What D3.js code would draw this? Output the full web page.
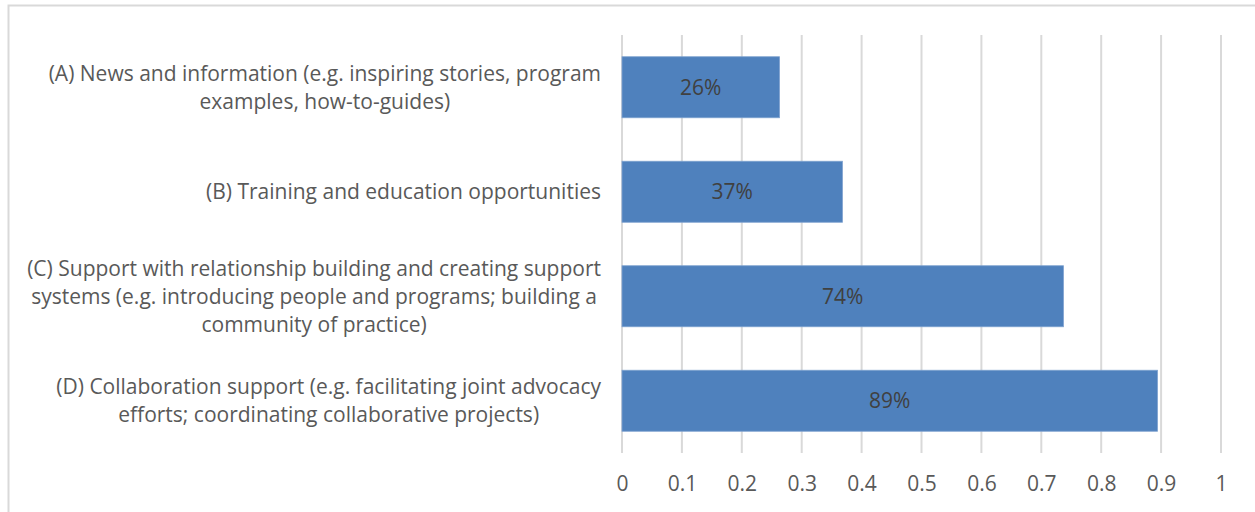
<!DOCTYPE html>
<html>
<head>
<meta charset="utf-8">
<style>
  body { margin: 0; background: #fff; }
  svg { display: block; }
</style>
</head>
<body>
<svg width="1255" height="512"></svg>
<script src="https://cdn.jsdelivr.net/npm/d3@7"></script>
<script>
  // categories, top to bottom; each label split into its wrapped lines
  var categories = [
    ["(A) News and information (e.g. inspiring stories, program", "examples, how-to-guides)"],
    ["(B) Training and education opportunities"],
    ["(C) Support with relationship building and creating support", "systems (e.g. introducing people and programs; building a", "community of practice)"],
    ["(D) Collaboration support (e.g. facilitating joint advocacy", "efforts; coordinating collaborative projects)"]
  ];
  var values = [0.263, 0.368, 0.737, 0.894];
  var valueLabels = ["26%", "37%", "74%", "89%"];
  var xTicks = [0, 0.1, 0.2, 0.3, 0.4, 0.5, 0.6, 0.7, 0.8, 0.9, 1];

  var svg = d3.select("svg");
  var font = "'Open Sans', sans-serif";
  var fs = "21px";

  // chart frame
  svg.append("rect")
    .attr("x", 8.5).attr("y", 5.5)
    .attr("width", 1260).attr("height", 520)
    .attr("fill", "#fff")
    .attr("stroke", "#d9d9d9").attr("stroke-width", 2);

  var x = d3.scaleLinear().domain([0, 1]).range([622, 1221]);
  var y = d3.scaleBand()
    .domain(d3.range(categories.length))
    .range([35, 453])
    .paddingInner(0.416)
    .paddingOuter(0.208);

  // vertical gridlines (run a little below the plot like tick marks)
  svg.append("g")
    .selectAll("line")
    .data(xTicks)
    .enter().append("line")
    .attr("x1", function(d) { return x(d); })
    .attr("x2", function(d) { return x(d); })
    .attr("y1", 35).attr("y2", 453)
    .attr("stroke", "#d9d9d9").attr("stroke-width", 2);

  // x axis tick labels
  var xAxis = d3.axisBottom(x).tickValues(xTicks).tickSize(0).tickPadding(0)
    .tickFormat(function(d) { return d3.format("")(+d.toFixed(1)); });
  var ax = svg.append("g").attr("transform", "translate(0,476)").call(xAxis);
  ax.select(".domain").remove();
  ax.selectAll("text")
    .attr("font-family", font).attr("font-size", fs)
    .attr("fill", "#595959");

  // bars
  svg.append("g")
    .selectAll("rect")
    .data(values)
    .enter().append("rect")
    .attr("x", x(0))
    .attr("y", function(d, i) { return y(i); })
    .attr("width", function(d) { return x(d) - x(0); })
    .attr("height", y.bandwidth())
    .attr("fill", "#4f81bd")
    .attr("stroke", "#7fa2d0").attr("stroke-width", 0.8);

  // value labels
  svg.append("g")
    .selectAll("text")
    .data(values)
    .enter().append("text")
    .attr("x", function(d) { return (x(0) + x(d)) / 2; })
    .attr("y", function(d, i) { return y(i) + y.bandwidth() / 2; })
    .attr("dy", "0.35em")
    .attr("text-anchor", "middle")
    .attr("font-family", font).attr("font-size", fs)
    .attr("fill", "#404040")
    .text(function(d, i) { return valueLabels[i]; });

  // category labels, each line centred on a common column, block right-aligned at 600
  var lineH = 28;
  var labels = svg.append("g")
    .selectAll("text")
    .data(categories)
    .enter().append("text")
    .attr("font-family", font).attr("font-size", fs)
    .attr("fill", "#595959")
    .attr("text-anchor", "middle");

  labels.each(function(lines, i) {
    var t = d3.select(this);
    var cy = y(i) + y.bandwidth() / 2;
    var top = cy - (lines.length - 1) * lineH / 2;
    lines.forEach(function(s, j) {
      t.append("tspan").attr("y", top + j * lineH).attr("dy", "0.35em").text(s);
    });
    // widest line sets the right edge
    var w = 0;
    t.selectAll("tspan").each(function() { w = Math.max(w, this.getComputedTextLength()); });
    t.selectAll("tspan").attr("x", 601 - w / 2);
  });
</script>
</body>
</html>
